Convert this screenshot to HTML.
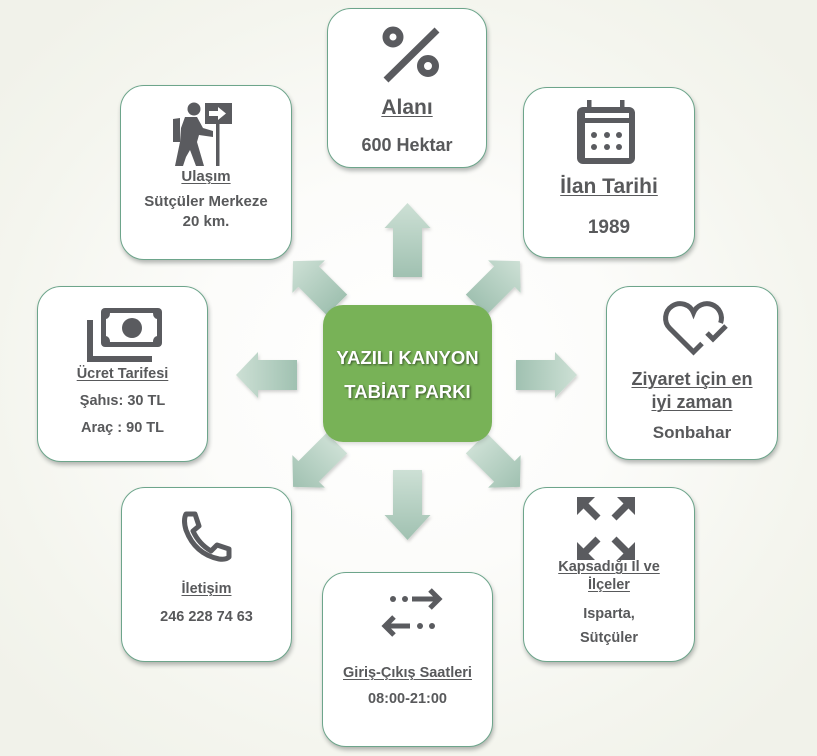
<!DOCTYPE html>
<html>
<head>
<meta charset="utf-8">
<style>
html,body{margin:0;padding:0;}
body{width:817px;height:756px;position:relative;overflow:hidden;
background:radial-gradient(ellipse 520px 480px at 407px 375px,#ffffff 0%,#fcfcfa 40%,#f4f5ee 80%,#f1f2ea 100%);
font-family:"Liberation Sans",sans-serif;color:#58595b;}
.box{position:absolute;box-sizing:border-box;background:#fff;border:1px solid #6da58b;border-radius:24px;
box-shadow:1px 3px 4px rgba(40,50,45,0.33);}
.t{position:absolute;left:0;width:100%;text-align:center;white-space:nowrap;font-weight:bold;}
.u{text-decoration:underline;text-decoration-thickness:1px;text-underline-offset:2px;}
.center{position:absolute;left:323px;top:305px;width:169px;height:137px;background:#78b257;border-radius:20px;
box-shadow:0 2px 4px rgba(0,0,0,0.15);}
.ct{position:absolute;left:0;width:100%;text-align:center;color:#fff;font-weight:bold;font-size:18.5px;
text-shadow:1px 1px 2px rgba(0,0,0,0.55);white-space:nowrap;line-height:22px;}
svg{position:absolute;left:0;top:0;}
</style>
</head>
<body>

<svg width="817" height="756" viewBox="0 0 817 756" style="z-index:0">
<defs>
<linearGradient id="ga" x1="0" y1="0" x2="0" y2="1">
<stop offset="0" stop-color="#cde0d5"/><stop offset="1" stop-color="#a0c1b1"/>
</linearGradient>
<linearGradient id="gb" x1="0" y1="0" x2="0" y2="1">
<stop offset="0" stop-color="#a0c1b1"/><stop offset="1" stop-color="#cde0d5"/>
</linearGradient>
<filter id="sh" x="-30%" y="-30%" width="160%" height="160%">
<feDropShadow dx="1" dy="2" stdDeviation="1.5" flood-color="#000" flood-opacity="0.18"/>
</filter>
</defs>
<g filter="url(#sh)">
<polygon transform="translate(407.5,240)" fill="url(#ga)" points="0,-37 23,-12 14.5,-12 14.5,37 -14.5,37 -14.5,-12 -23,-12"/>
<polygon transform="translate(407.5,505) rotate(180)" fill="url(#gb)" points="0,-35 23,-10 14.5,-10 14.5,35 -14.5,35 -14.5,-10 -23,-10"/>
<polygon transform="translate(266.5,375) rotate(-90)" fill="url(#ga)" points="0,-30.5 23,-8.5 15,-8.5 15,30.5 -15,30.5 -15,-8.5 -23,-8.5"/>
<polygon transform="translate(546.5,375) rotate(90)" fill="url(#ga)" points="0,-30.5 23,-8.5 15,-8.5 15,30.5 -15,30.5 -15,-8.5 -23,-8.5"/>
<polygon transform="translate(315,283) rotate(-45)" fill="url(#ga)" points="0,-31 23,-9 14.5,-9 14.5,31 -14.5,31 -14.5,-9 -23,-9"/>
<polygon transform="translate(498,283) rotate(45)" fill="url(#ga)" points="0,-31 23,-9 14.5,-9 14.5,31 -14.5,31 -14.5,-9 -23,-9"/>
<polygon transform="translate(315,465) rotate(-135)" fill="url(#gb)" points="0,-31 23,-9 14.5,-9 14.5,31 -14.5,31 -14.5,-9 -23,-9"/>
<polygon transform="translate(498,465) rotate(135)" fill="url(#gb)" points="0,-31 23,-9 14.5,-9 14.5,31 -14.5,31 -14.5,-9 -23,-9"/>
</g>
</svg>

<div class="box" style="left:327px;top:8px;width:160px;height:160px;">
<div class="t u" style="top:86px;font-size:21px;line-height:26px;">Alanı</div>
<div class="t" style="top:125px;font-size:18px;line-height:22px;">600 Hektar</div>
</div>

<div class="box" style="left:120px;top:85px;width:172px;height:175px;">
<div class="t u" style="top:81px;font-size:15px;line-height:20px;">Ulaşım</div>
<div class="t" style="top:106px;font-size:15px;line-height:20px;">Sütçüler Merkeze</div>
<div class="t" style="top:126px;font-size:15px;line-height:20px;">20 km.</div>
</div>

<div class="box" style="left:523px;top:87px;width:172px;height:171px;">
<div class="t u" style="top:86px;font-size:21px;line-height:26px;">İlan Tarihi</div>
<div class="t" style="top:129px;font-size:19px;line-height:22px;">1989</div>
</div>

<div class="box" style="left:606px;top:286px;width:172px;height:174px;">
<div class="t u" style="top:81px;font-size:18px;line-height:22px;">Ziyaret için en</div>
<div class="t u" style="top:104px;font-size:18px;line-height:22px;">iyi zaman</div>
<div class="t" style="top:135px;font-size:17px;line-height:22px;">Sonbahar</div>
</div>

<div class="box" style="left:37px;top:286px;width:171px;height:176px;">
<div class="t u" style="top:77px;font-size:14.5px;line-height:20px;">Ücret Tarifesi</div>
<div class="t" style="top:104px;font-size:14.5px;line-height:20px;">Şahıs: 30 TL</div>
<div class="t" style="top:131px;font-size:14.5px;line-height:20px;">Araç : 90 TL</div>
</div>

<div class="box" style="left:121px;top:487px;width:171px;height:175px;">
<div class="t u" style="top:91px;font-size:14.5px;line-height:20px;">İletişim</div>
<div class="t" style="top:119px;font-size:14.5px;line-height:20px;">246 228 74 63</div>
</div>

<div class="box" style="left:322px;top:572px;width:171px;height:175px;">
<div class="t u" style="top:90px;font-size:14.5px;line-height:20px;">Giriş-Çıkış Saatleri</div>
<div class="t" style="top:116px;font-size:14.5px;line-height:20px;">08:00-21:00</div>
</div>

<div class="box" style="left:523px;top:487px;width:172px;height:175px;">
<div class="t u" style="top:70px;font-size:14.5px;line-height:18px;">Kapsadığı İl ve</div>
<div class="t u" style="top:88px;font-size:14.5px;line-height:18px;">İlçeler</div>
<div class="t" style="top:116px;font-size:14.5px;line-height:20px;">Isparta,</div>
<div class="t" style="top:140px;font-size:14.5px;line-height:20px;">Sütçüler</div>
</div>

<div class="center">
<div class="ct" style="top:42px;">YAZILI KANYON</div>
<div class="ct" style="top:76px;">TABİAT PARKI</div>
</div>

<svg width="817" height="756" viewBox="0 0 817 756" style="z-index:5">
<g fill="#5a5b5f" stroke="none">
<circle cx="393" cy="37" r="7" fill="none" stroke="#5a5b5f" stroke-width="7"/>
<circle cx="428" cy="66" r="7.5" fill="none" stroke="#5a5b5f" stroke-width="7"/>
<line x1="437" y1="30" x2="386" y2="80" stroke="#5a5b5f" stroke-width="7"/>

<circle cx="194" cy="109" r="6.5"/>
<rect x="205" y="103" width="27" height="21"/>
<polygon fill="#fff" points="209,111 218,111 218,107 226,113.5 218,120 218,116 209,116"/>
<rect x="216" y="124" width="3.5" height="42"/>
<polygon points="185,117 197,117 203,128 213,131 213,137 199,135 197,142 204,166 196,166 190,150 186,157 183,166 175,166 180,142 181,128"/>
<polygon points="173,119 180,118 180,142 173,142"/>

<rect x="577" y="107" width="58" height="57" rx="6"/>
<rect x="587" y="100" width="4.5" height="9"/>
<rect x="620" y="100" width="4.5" height="9"/>
<rect x="585" y="113" width="44" height="5" fill="#fff"/>
<rect x="585" y="123" width="44" height="35" fill="#fff"/>
<circle cx="594" cy="135" r="3"/><circle cx="607" cy="135" r="3"/><circle cx="619" cy="135" r="3"/>
<circle cx="594" cy="147" r="3"/><circle cx="607" cy="147" r="3"/><circle cx="619" cy="147" r="3"/>

<g fill="none" stroke="#5a5b5f" stroke-width="5" stroke-linejoin="miter">
<path d="M720.6,323 A14.5,14.5 0 0 0 693.5,312.7 A14.5,14.5 0 1 0 669.7,328.3 L693.5,352 L702,343.5"/>
<path d="M707,333 L713,339 L726,326"/>
</g>

<rect x="87" y="320" width="6" height="42"/>
<rect x="87" y="356" width="65" height="6"/>
<rect x="101" y="308" width="61" height="39" rx="4"/>
<path fill="#fff" d="M110,313 L153,313 Q153,318 157,319 L157,336 Q153,337 153,342 L110,342 Q110,337 106,336 L106,319 Q110,318 110,313 Z"/>
<circle cx="132" cy="328" r="10"/>

<path fill="none" stroke="#5a5b5f" stroke-width="5" stroke-linejoin="round" d="M186,514 L195,514 L199,526 L193,531 Q199,544 211,551 L217,545 L229,549 L229,557 Q226,560 219,559 Q195,554 186,530 Q183,520 186,514 Z"/>

<circle cx="393" cy="599" r="3"/><circle cx="405" cy="599" r="3"/>
<line x1="412" y1="599" x2="437" y2="599" stroke="#5a5b5f" stroke-width="5"/>
<polyline points="430,590 439,599 430,608" fill="none" stroke="#5a5b5f" stroke-width="5"/>
<line x1="387" y1="626" x2="410" y2="626" stroke="#5a5b5f" stroke-width="5"/>
<polyline points="394,617 385,626 394,635" fill="none" stroke="#5a5b5f" stroke-width="5"/>
<circle cx="420" cy="626" r="3"/><circle cx="432" cy="626" r="3"/>

<polygon points="577,497 595,497 588.5,503.5 600.5,515.5 595.5,520.5 583.5,508.5 577,515"/>
<polygon transform="translate(1212,0) scale(-1,1)" points="577,497 595,497 588.5,503.5 600.5,515.5 595.5,520.5 583.5,508.5 577,515"/>
<polygon transform="translate(0,1057) scale(1,-1)" points="577,497 595,497 588.5,503.5 600.5,515.5 595.5,520.5 583.5,508.5 577,515"/>
<polygon transform="translate(1212,1057) scale(-1,-1)" points="577,497 595,497 588.5,503.5 600.5,515.5 595.5,520.5 583.5,508.5 577,515"/>
</g>
</svg>

</body>
</html>
